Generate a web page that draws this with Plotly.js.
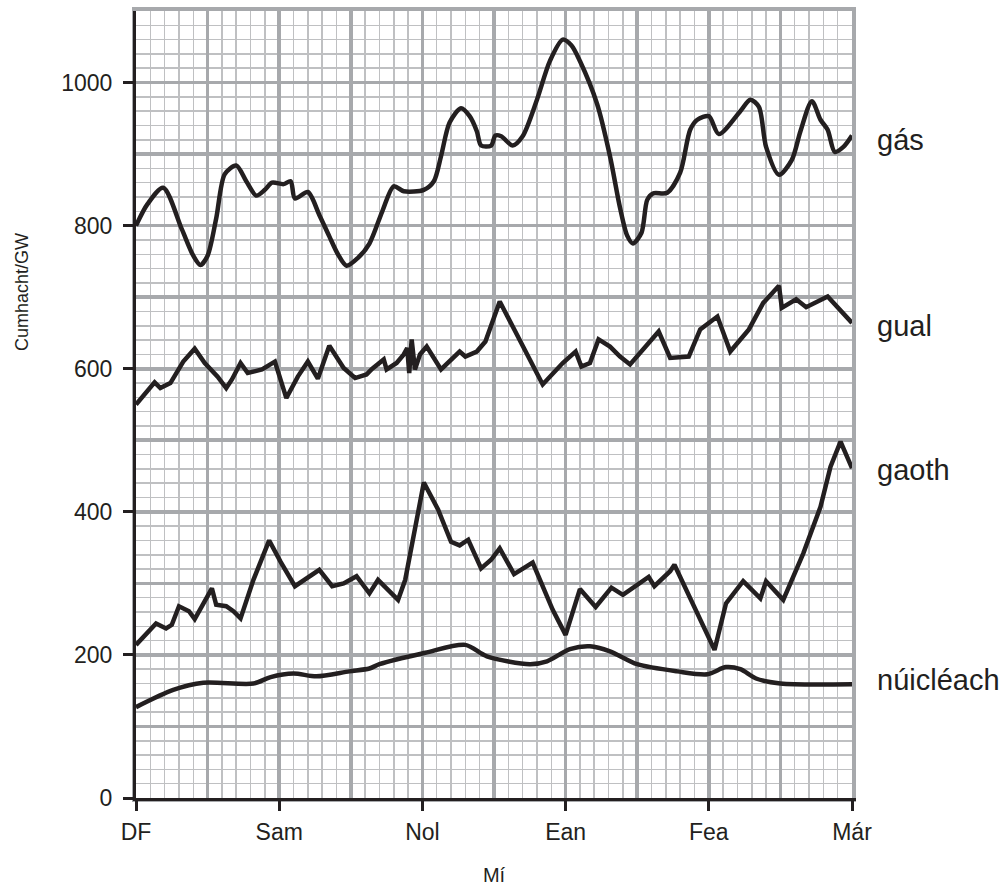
<!DOCTYPE html>
<html>
<head>
<meta charset="utf-8">
<script src="https://cdn.plot.ly/plotly-3.0.1.min.js"></script>
<style>
  html, body { margin: 0; padding: 0; background: #ffffff; }
  #chart { width: 1005px; height: 891px; }
</style>
</head>
<body>
<div id="chart"></div>
<script>
// Month axis: 0 = DF ... 5 = Már
const monthPos = [0, 1, 2, 3, 4, 5];
const monthLabels = ['DF', 'Sam', 'Nol', 'Ean', 'Fea', 'Már'];
const yTickVals = [0, 200, 400, 600, 800, 1000];

const seriesNames = ['gás', 'gual', 'gaoth', 'núicléach'];

const gasX = [0.00,0.08,0.19,0.32,0.40,0.45,0.50,0.56,0.62,0.70,0.77,0.84,0.90,0.95,1.03,1.08,1.11,1.20,1.28,1.35,1.41,1.47,1.55,1.63,1.72,1.80,1.87,2.01,2.08,2.13,2.19,2.27,2.33,2.38,2.41,2.48,2.51,2.55,2.63,2.70,2.80,2.89,2.98,3.04,3.10,3.22,3.31,3.38,3.43,3.47,3.53,3.57,3.61,3.71,3.80,3.87,3.92,4.00,4.07,4.22,4.29,4.35,4.40,4.49,4.58,4.64,4.72,4.78,4.83,4.88,4.94,5.00];
const gasY = [800,830,853,795,758,745,758,810,872,884,862,842,850,860,858,862,838,847,815,785,760,744,755,775,820,855,848,850,862,897,944,964,953,932,912,912,926,925,912,925,976,1030,1060,1052,1030,970,897,825,786,775,790,836,845,846,874,934,948,953,928,960,976,966,910,871,892,932,974,948,934,903,910,926];

const coalX = [0.00,0.13,0.17,0.24,0.33,0.41,0.48,0.57,0.63,0.67,0.73,0.78,0.88,0.97,1.05,1.13,1.20,1.27,1.35,1.45,1.53,1.61,1.65,1.73,1.75,1.82,1.87,1.894,1.908,1.925,1.948,1.983,2.03,2.13,2.26,2.30,2.38,2.44,2.54,2.68,2.84,2.98,3.07,3.11,3.17,3.23,3.31,3.38,3.45,3.65,3.73,3.86,3.94,4.06,4.15,4.28,4.38,4.49,4.51,4.61,4.68,4.83,5.00];
const coalY = [550,581,573,580,610,628,608,589,573,585,608,594,599,610,559,589,610,586,632,601,587,592,600,613,599,608,620,629,594,641,599,620,631,599,624,617,624,638,694,640,578,608,624,603,608,641,631,617,606,652,615,617,655,673,624,655,692,716,685,697,686,701,664];

const windX = [0.00,0.14,0.21,0.25,0.30,0.37,0.41,0.53,0.56,0.63,0.68,0.73,0.82,0.93,1.01,1.11,1.28,1.37,1.45,1.54,1.63,1.69,1.83,1.88,2.01,2.11,2.20,2.26,2.32,2.41,2.48,2.54,2.64,2.77,2.91,3.00,3.10,3.21,3.32,3.40,3.58,3.62,3.73,3.76,4.04,4.12,4.24,4.36,4.40,4.52,4.66,4.78,4.85,4.92,5.00];
const windY = [214,244,237,242,268,261,250,293,270,268,261,251,305,360,330,296,319,296,300,310,286,305,277,305,441,403,358,353,361,321,333,349,313,329,263,228,292,267,294,284,309,296,317,326,207,272,303,279,303,277,342,407,463,498,461];

const nucX = [0.00,0.26,0.47,0.82,0.94,1.10,1.26,1.49,1.63,1.70,2.02,2.30,2.45,2.75,2.87,3.03,3.17,3.31,3.50,3.78,3.99,4.12,4.22,4.33,4.50,5.00];
const nucY = [127,151,161,160,169,174,170,177,181,187,203,214,198,187,191,208,212,205,187,177,173,183,180,167,160,159];

const ink = '#231f20';
const font = 'Liberation Sans, Arial, sans-serif';

function lineTrace(x, y, name, shape) {
  const t = { x: x, y: y, name: name, type: 'scatter', mode: 'lines',
    line: { color: ink, width: 4.5, shape: shape }, showlegend: false, hoverinfo: 'x+y+name' };
  if (shape === 'spline') t.line.smoothing = 0.8;
  return t;
}

const traces = [
  // invisible trace that carries the grid axes
  { x: [null], y: [null], xaxis: 'x2', yaxis: 'y2', type: 'scatter', mode: 'lines', showlegend: false, hoverinfo: 'skip' },
  lineTrace(gasX, gasY, seriesNames[0], 'spline'),
  lineTrace(coalX, coalY, seriesNames[1], 'linear'),
  lineTrace(windX, windY, seriesNames[2], 'linear'),
  lineTrace(nucX, nucY, seriesNames[3], 'spline')
];

// labels sit level with the end of each line
const lastIdx = a => a[a.length - 1];
const labelY = [lastIdx(gasY) - 6, lastIdx(coalY) - 4, lastIdx(windY) - 2, lastIdx(nucY) + 6];

const annotations = seriesNames.map((n, i) => ({
  text: n, xref: 'paper', yref: 'y', x: 1.0315, y: labelY[i],
  xanchor: 'left', yanchor: 'middle', showarrow: false,
  font: { family: font, size: 29, color: ink }
}));
annotations.push({
  text: 'Cumhacht/GW', xref: 'paper', yref: 'paper', x: -0.159, y: 0.643,
  xanchor: 'center', yanchor: 'middle', textangle: -90, showarrow: false,
  font: { family: font, size: 18, color: ink }
});

const layout = {
  width: 1005, height: 891,
  margin: { l: 136, r: 153, t: 11, b: 93 },
  paper_bgcolor: '#ffffff', plot_bgcolor: '#ffffff',
  showlegend: false,
  xaxis: {
    range: [0, 5], tickmode: 'array', tickvals: monthPos, ticktext: monthLabels,
    ticks: 'outside', ticklen: 10, tickwidth: 3, tickcolor: ink,
    showline: true, linecolor: ink, linewidth: 3, showgrid: false, zeroline: false,
    tickfont: { family: font, size: 23, color: ink }, ticklabelstandoff: 1,
    title: { text: 'Mí', font: { family: font, size: 20, color: ink }, standoff: 25 }
  },
  yaxis: {
    range: [0, 1100], tickmode: 'array', tickvals: yTickVals,
    ticks: 'outside', ticklen: 10, tickwidth: 3, tickcolor: ink,
    showline: true, linecolor: ink, linewidth: 3, showgrid: false, zeroline: false,
    tickfont: { family: font, size: 23, color: ink }, ticklabelstandoff: 6
  },
  xaxis2: {
    overlaying: 'x', anchor: 'y2', range: [0, 5], tick0: 0, dtick: 0.5,
    showgrid: true, gridcolor: '#a7a9ac', gridwidth: 3.6,
    minor: { tick0: 0, dtick: 0.1, showgrid: true, gridcolor: '#bfc0c2', gridwidth: 1.5 },
    showticklabels: false, ticks: '', zeroline: false,
    showline: true, mirror: true, linecolor: '#a7a9ac', linewidth: 3.6, layer: 'below traces'
  },
  yaxis2: {
    overlaying: 'y', anchor: 'x2', range: [0, 1100], tick0: 0, dtick: 100,
    showgrid: true, gridcolor: '#a7a9ac', gridwidth: 3.6,
    minor: { tick0: 0, dtick: 20, showgrid: true, gridcolor: '#bfc0c2', gridwidth: 1.5 },
    showticklabels: false, ticks: '', zeroline: false,
    showline: true, mirror: true, linecolor: '#a7a9ac', linewidth: 3.6, layer: 'below traces'
  },
  annotations: annotations
};

Plotly.newPlot('chart', traces, layout, { displayModeBar: false, staticPlot: true });
</script>
</body>
</html>
